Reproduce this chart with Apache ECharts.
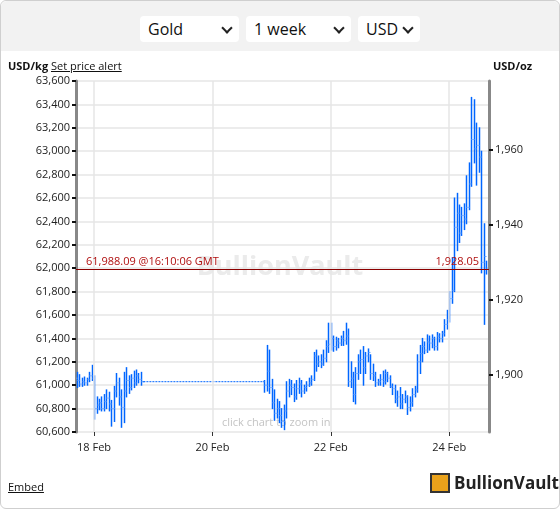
<!DOCTYPE html>
<html>
<head>
<meta charset="utf-8">
<script src="https://cdn.jsdelivr.net/npm/echarts@6/dist/echarts.min.js"></script>
<style>
  html, body { margin: 0; padding: 0; width: 560px; height: 509px; overflow: hidden; font-family: "Open Sans", "DejaVu Sans", sans-serif; }
  #frame { position: absolute; left: 0; top: 0; width: 558px; height: 507px; border: 1px solid #cfcfcf; border-radius: 6px; background: #fff; }
  #topbar { position: absolute; left: 0; top: 0; width: 558px; height: 50px; background: #f2f2f2; border-radius: 6px 6px 0 0; }
  .sel { position: absolute; top: 15px; height: 26px; background: #fff; border-radius: 4px; font-size: 16px; color: #111; line-height: 26px; padding-left: 8px; box-sizing: border-box; }
  .sel:after { content: ""; position: absolute; right: 8px; top: 8px; width: 6px; height: 6px; border-right: 2px solid #222; border-bottom: 2px solid #222; transform: rotate(45deg); }
  #chart { position: absolute; left: 0; top: 0; width: 560px; height: 509px; }
  .hdr { position: absolute; top: 58px; font-size: 11px; color: #111; }
  #embed { position: absolute; left: 8px; top: 479px; font-size: 11px; color: #111; text-decoration: underline; }
  #logo { position: absolute; left: 430px; top: 471px; font-size: 17px; font-weight: bold; color: #222; }
  #logo span { display: inline-block; width: 20px; height: 20px; background: #e9a21b; border: 2px solid #333; box-sizing: border-box; vertical-align: -4px; margin-right: 4px; }
</style>
</head>
<body>
<div id="frame">
  <div id="topbar">
    <div class="sel" style="left:139px;width:99px">Gold</div>
    <div class="sel" style="left:245px;width:105px">1 week</div>
    <div class="sel" style="left:357px;width:62px">USD</div>
  </div>
</div>
<div id="chart"></div>
<div class="hdr" style="left:8px"><b>USD/kg</b> <u>Set price alert</u></div>
<div class="hdr" style="left:493px"><b>USD/oz</b></div>
<div id="embed">Embed</div>
<div id="logo"><span></span>BullionVault</div>
<script>
// hourly OHLC bars, USD/kg: [open, close, low, high]
var bars1Start = Date.UTC(2023, 1, 17, 17);
var bars1 = [
  [61060,61040,60980,61110],[61040,61010,60990,61090],[61010,61030,60990,61060],[61030,61020,61000,61070],
  [61020,61050,61000,61060],[61050,61080,61030,61110],[61080,61060,61040,61170],[61060,60800,60710,61080],
  [60800,60830,60760,60900],[60830,60850,60790,60880],[60850,60800,60780,60900],[60800,60860,60780,60920],
  [60860,60890,60800,60960],[60890,60840,60780,60940],[60840,60800,60650,60870],[60800,60950,60690,60990],
  [60950,61020,60900,61100],[61020,60900,60830,61060],[60900,60810,60640,60960],[60810,60950,60680,61110],
  [60950,61040,60900,61150],[61040,60980,60930,61080],[60980,61060,60960,61090],[61060,61020,60980,61120],
  [61020,61080,61000,61130],[61080,61050,61020,61100],[61050,61030,61000,61110],[61030,61030,61030,61030]
];
var bars2Start = Date.UTC(2023, 1, 20, 21);
var bars2 = [
  [61030,61000,60940,61040],[61000,61120,60950,61340],[61120,60980,60930,61300],[60980,60850,60800,61050],
  [60850,60760,60700,60960],[60760,60800,60720,60880],[60800,60740,60680,60860],[60740,60690,60640,60800],
  [60690,60780,60620,60830],[60780,60950,60720,61030],[60950,61000,60900,61050],[61000,60980,60920,61040],
  [60980,60900,60860,61010],[60900,60970,60880,61040],[60970,61010,60930,61060],[61010,60950,60900,61040],
  [60950,60980,60930,61000],[60980,61000,60950,61030],[61000,61020,60990,61060],[61020,61050,61000,61080],
  [61050,61250,61040,61280],[61250,61180,61120,61300],[61180,61200,61160,61250],[61200,61180,61150,61260],
  [61180,61230,61170,61300],[61230,61330,61200,61380],[61330,61350,61280,61530],[61350,61400,61300,61530],
  [61400,61330,61290,61420],[61330,61380,61300,61410],[61380,61360,61320,61400],[61360,61400,61340,61420],
  [61400,61380,61340,61460],[61380,61420,61350,61530],[61420,61030,60990,61480],[61030,61060,60980,61200],
  [61060,60920,60860,61110],[60920,61100,60840,61150],[61100,61200,61050,61260],[61200,61220,61100,61300],
  [61220,61150,61000,61330],[61150,61250,61100,61280],[61250,61280,61200,61310],[61280,61100,61050,61260],
  [61100,61080,61040,61180],[61080,61020,60990,61110],[61020,61030,61000,61050],[61030,61050,61000,61090],
  [61050,61030,60990,61120],[61030,61100,61010,61130],[61100,61060,61030,61110],[61060,60990,60980,61080],
  [60990,60970,60920,61010],[60970,60880,60850,61000],[60880,60900,60820,60950],[60900,60840,60800,60980],
  [60840,60880,60800,60920],[60880,60900,60850,60950],[60900,60810,60750,60910],[60810,60850,60780,60900],
  [60850,60920,60820,60970],[60920,60960,60900,60990],[60960,61200,60940,61260],[61200,61270,61100,61340],
  [61270,61330,61200,61400],[61330,61300,61270,61370],[61300,61370,61280,61430],[61370,61360,61300,61420],
  [61360,61400,61320,61430],[61400,61330,61300,61410],[61330,61420,61300,61450],[61420,61400,61370,61440],
  [61400,61440,61370,61460],[61440,61520,61420,61560],[61520,61560,61480,61640],[61560,61740,61540,61800],
  [61740,61810,61700,62090],[61810,62350,61800,62600],[62350,62470,62150,62640],[62470,62300,62220,62540],
  [62300,62450,62280,62520],[62450,62420,62330,62550],[62420,62520,62380,62790],[62520,62720,62500,62900],
  [62720,63100,62700,63460],[63100,63020,62900,63440],[63020,63050,62710,63240],[63050,62950,62820,63200],
  [62950,62050,61960,63000],[62050,62100,61520,62380],[62100,62000,61950,62060]
];
var flatPrice = 61030;
var lastPrice = 61988.09;
var lastOz = '1,928.05';
var lastTime = '@16:10:06 GMT';
var ozPerKg = 32.1507;
var kgMin = 60600, kgMax = 63600;
var ozTicks = [1900, 1920, 1940, 1960];
var dayTicks = [Date.UTC(2023,1,18), Date.UTC(2023,1,20), Date.UTC(2023,1,22), Date.UTC(2023,1,24)];

var HOUR = 3600000;
function withTime(rows, start) {
  return rows.map(function (r, i) { return [start + i * HOUR].concat(r); });
}
var ohlc = withTime(bars1, bars1Start).concat(withTime(bars2, bars2Start));
var flatLine = [[bars1Start + (bars1.length - 1) * HOUR, flatPrice], [bars2Start, flatPrice]];

function renderBar(params, api) {
  var t = api.value(0);
  var o = api.coord([t, api.value(1)]);
  var c = api.coord([t, api.value(2)]);
  var l = api.coord([t, api.value(3)]);
  var h = api.coord([t, api.value(4)]);
  var x = Math.round(o[0]) + 0.5;
  return {
    type: 'group',
    children: [
      { type: 'line', shape: { x1: x, y1: h[1] - 0.5, x2: x, y2: l[1] + 0.5 }, style: { stroke: '#0066ff', lineWidth: 1.5 } },
      { type: 'line', shape: { x1: x - 1.2, y1: o[1], x2: x, y2: o[1] }, style: { stroke: '#66a3ff', lineWidth: 1 } },
      { type: 'line', shape: { x1: x, y1: c[1], x2: x + 1.2, y2: c[1] }, style: { stroke: '#66a3ff', lineWidth: 1 } }
    ]
  };
}

var fmt = function (v) { return Number(v).toLocaleString('en-US'); };
var months = ['Jan','Feb','Mar','Apr','May','Jun','Jul','Aug','Sep','Oct','Nov','Dec'];

var chart = echarts.init(document.getElementById('chart'));
chart.setOption({
  animation: false,
  textStyle: { fontFamily: 'Open Sans, DejaVu Sans, sans-serif' },
  grid: { left: 76, right: 71, top: 81, bottom: 77 },
  graphic: [
    { type: 'text', left: 'center', top: 254, z: 0, silent: true,
      style: { text: 'BullionVault', fill: '#ebebeb', font: 'bold 27px "Open Sans", sans-serif' } },
    { type: 'text', left: 222, top: 417, z: 0,
      style: { text: 'click chart to zoom in', fill: '#c4c4c4', font: '11px "Open Sans", sans-serif' } }
  ],
  xAxis: {
    type: 'value',
    min: Date.UTC(2023, 1, 17, 16, 40),
    max: Date.UTC(2023, 1, 24, 16, 10),
    axisLine: { show: false },
    axisTick: { show: true, length: 4, customValues: dayTicks, lineStyle: { color: '#333' } },
    splitLine: { show: false },
    axisLabel: {
      color: '#222', fontSize: 11, margin: 10, customValues: dayTicks,
      formatter: function (v) { var d = new Date(v); return d.getUTCDate() + ' ' + months[d.getUTCMonth()]; }
    }
  },
  yAxis: [
    {
      type: 'value', min: kgMin, max: kgMax, interval: 200, position: 'left',
      axisLine: { show: true, lineStyle: { color: '#888', width: 3 } },
      axisTick: { show: true, length: 4, lineStyle: { color: '#111', width: 2 } },
      splitLine: { lineStyle: { color: '#e6e6e6', width: 1.5 } },
      axisLabel: { color: '#222', fontSize: 11, margin: 6, formatter: fmt }
    },
    {
      type: 'value', min: kgMin / ozPerKg, max: kgMax / ozPerKg, position: 'right',
      axisLine: { show: true, lineStyle: { color: '#888', width: 3 } },
      axisTick: { show: true, length: 4, customValues: ozTicks, lineStyle: { color: '#111', width: 2 } },
      splitLine: { show: false },
      axisLabel: { color: '#222', fontSize: 11, margin: 6, customValues: ozTicks, formatter: fmt }
    }
  ],
  series: [
    {
      type: 'line', data: [], silent: true,
      markLine: {
        symbol: 'none', silent: true, label: { show: false },
        lineStyle: { color: '#e6e6e6', width: 1.5, type: 'solid' },
        data: dayTicks.map(function (t) { return { xAxis: t }; })
      }
    },
    {
      type: 'line', data: flatLine, symbol: 'none',
      lineStyle: { color: '#0066ff', width: 1, type: [2, 1] },
      markLine: {
        symbol: 'none', silent: true,
        lineStyle: { color: '#8b0000', width: 1.2, type: 'solid' },
        data: [
          { yAxis: lastPrice, label: { position: 'insideStartTop', distance: [10, 2], color: '#b01010', fontSize: 11,
            formatter: fmt(lastPrice) + ' ' + lastTime } },
          { yAxis: lastPrice, label: { position: 'insideEndTop', distance: [10, 2], color: '#b01010', fontSize: 11, formatter: lastOz } }
        ]
      }
    },
    {
      type: 'custom', renderItem: renderBar, data: ohlc,
      encode: { x: 0, y: [1, 2, 3, 4] }, z: 3
    }
  ]
});
</script>
</body>
</html>
